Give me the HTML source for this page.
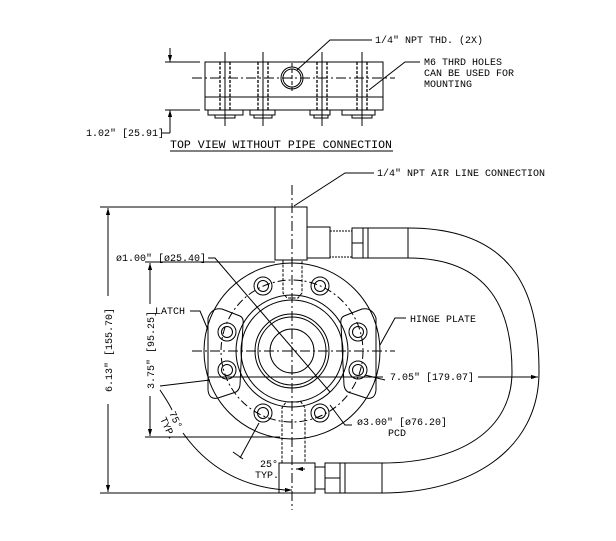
<!DOCTYPE html>
<html><head><meta charset="utf-8"><style>
html,body{margin:0;padding:0;background:#fff}
svg{display:block}
text{font-family:"Liberation Mono",monospace;font-size:10px;fill:#000}
</style></head><body>
<svg width="616" height="541" viewBox="0 0 616 541" xmlns="http://www.w3.org/2000/svg" fill="none" stroke="#000" stroke-width="1">
<defs>
<marker id="ar" viewBox="0 0 10 10" refX="10" refY="5" markerWidth="7" markerHeight="7" orient="auto-start-reverse"><path d="M0,2 L10,5 L0,8 z" fill="#000" stroke="none"/></marker>
</defs>
<rect x="205" y="62" width="178" height="48"/>
<line x1="205" y1="97" x2="383" y2="97"/>
<line x1="192" y1="78" x2="395" y2="78" stroke-dasharray="10,3,2,3"/>
<circle cx="292" cy="78" r="11"/><circle cx="292" cy="78" r="9"/>
<line x1="292" y1="63" x2="292" y2="93" stroke-dasharray="4,2"/>
<g stroke-dasharray="3,1.5" stroke-width="1.3">
<line x1="220" y1="62" x2="220" y2="110"/><line x1="230" y1="62" x2="230" y2="110"/>
<line x1="258" y1="62" x2="258" y2="110"/><line x1="268" y1="62" x2="268" y2="110"/>
<line x1="317" y1="62" x2="317" y2="110"/><line x1="327" y1="62" x2="327" y2="110"/>
<line x1="357" y1="62" x2="357" y2="110"/><line x1="367" y1="62" x2="367" y2="110"/>
</g>
<g>
<line x1="225" y1="52" x2="225" y2="126"/><line x1="263" y1="52" x2="263" y2="126"/><line x1="322" y1="52" x2="322" y2="126"/><line x1="362" y1="52" x2="362" y2="126"/>
<path d="M208,110 v5 h35 v-5 M250,110 v5 h25 v-5 M310,110 v5 h20 v-5 M342,110 v5 h33 v-5"/>
<path d="M215,115 v3 h20 v-3 M254,115 v3 h18 v-3 M314,115 v3 h14 v-3 M352,115 v3 h20 v-3"/>
</g>
<line x1="165" y1="62" x2="200" y2="62"/><line x1="165" y1="110" x2="200" y2="110"/>
<line x1="170" y1="48" x2="170" y2="62" marker-end="url(#ar)"/>
<line x1="170" y1="133" x2="170" y2="110" marker-end="url(#ar)"/>
<line x1="162" y1="133" x2="170" y2="133"/>
<text x="86" y="136" stroke="none">1.02" [25.91]</text>
<text x="170" y="148" stroke="none" textLength="222" lengthAdjust="spacingAndGlyphs" style="font-size:11px">TOP VIEW WITHOUT PIPE CONNECTION</text>
<line x1="170" y1="151" x2="393" y2="151"/>
<path d="M372,40 H330 L297,70"/>
<text x="375" y="43" stroke="none">1/4" NPT THD. (2X)</text>
<path d="M420,62 H405 L369,90"/>
<text x="424" y="65" stroke="none">M6 THRD HOLES</text>
<text x="424" y="76" stroke="none">CAN BE USED FOR</text>
<text x="424" y="87" stroke="none">MOUNTING</text>

<path d="M374,173 H345 L294,206"/>
<text x="377" y="176" stroke="none">1/4" NPT AIR LINE CONNECTION</text>
<path d="M408,228 C520,228 539,300 539,372 C539,450 470,493 382,493"/>
<path d="M408,258 C490,258 512,310 512,372 C512,430 460,463 382,463"/>
<rect x="275" y="207" width="32" height="53"/>
<path d="M307,227 h23 v31 h-23"/>
<path d="M330,231 h22 v26 h-22" stroke-dasharray="2,1"/>
<rect x="352" y="228" width="11" height="30"/><line x1="352" y1="243" x2="363" y2="243"/>
<rect x="363" y="228" width="45" height="30"/><line x1="368" y1="228" x2="368" y2="258"/>
<path d="M283,260 V293 L287,298 H298 L302,293 V260" stroke-dasharray="3,1.5"/>
<rect x="279" y="463" width="36" height="30"/>
<path d="M282,463 V408 L286,402 H301 L305,408 V463" stroke-dasharray="3,1.5"/>
<rect x="315" y="467" width="10" height="22"/>
<rect x="325" y="463" width="15" height="30"/><line x1="325" y1="478" x2="340" y2="478"/>
<rect x="340" y="463" width="42" height="30"/><line x1="345" y1="463" x2="345" y2="493"/>
<circle cx="292" cy="351" r="88"/>
<circle cx="292" cy="351" r="71" stroke-dasharray="8,3,2,3"/>
<circle cx="292" cy="351" r="56"/>
<circle cx="292" cy="351" r="51"/>
<circle cx="292" cy="351" r="37"/>
<circle cx="292" cy="351" r="34"/>
<circle cx="292" cy="351" r="22"/>
<path d="M208,318 Q212,307 222,309 L240,316 Q244,318 243,324 L240,385 Q239,392 233,393 L218,398 Q209,400 208,390 Z"/>
<path d="M376,318 Q372,307 362,309 L344,316 Q340,318 341,324 L344,385 Q345,392 351,393 L366,398 Q375,400 376,390 Z"/>
<g>
<circle cx="263" cy="286" r="9"/><circle cx="263" cy="286" r="5.5"/>
<circle cx="320" cy="286" r="9"/><circle cx="320" cy="286" r="5.5"/>
<circle cx="227" cy="332" r="9"/><circle cx="227" cy="332" r="5.5"/>
<circle cx="227" cy="370" r="9"/><circle cx="227" cy="370" r="5.5"/>
<circle cx="358" cy="332" r="9"/><circle cx="358" cy="332" r="5.5"/>
<circle cx="358" cy="370" r="9"/><circle cx="358" cy="370" r="5.5"/>
<circle cx="263" cy="413" r="9"/><circle cx="263" cy="413" r="5.5"/>
<circle cx="320" cy="413" r="9"/><circle cx="320" cy="413" r="5.5"/>
</g>
<line x1="292" y1="185" x2="292" y2="510" stroke-dasharray="10,3,2,3"/>
<line x1="192" y1="351" x2="395" y2="351" stroke-dasharray="10,3,2,3"/>
<line x1="208" y1="377" x2="383" y2="377"/>
<line x1="100" y1="207" x2="275" y2="207"/><line x1="100" y1="493" x2="279" y2="493"/>
<line x1="108" y1="350" x2="108" y2="208" marker-end="url(#ar)"/>
<line x1="108" y1="350" x2="108" y2="492" marker-end="url(#ar)"/>
<rect x="101" y="296" width="14" height="108" fill="#fff" stroke="none"/>
<text transform="translate(112,350) rotate(-90)" text-anchor="middle" stroke="none">6.13" [155.70]</text>
<line x1="145" y1="262" x2="275" y2="262"/><line x1="145" y1="437" x2="280" y2="437"/>
<line x1="150" y1="350" x2="150" y2="263" marker-end="url(#ar)"/>
<line x1="150" y1="350" x2="150" y2="436" marker-end="url(#ar)"/>
<rect x="143" y="304" width="14" height="92" fill="#fff" stroke="none"/>
<text transform="translate(154,350) rotate(-90)" text-anchor="middle" stroke="none">3.75" [95.25]</text>
<path d="M208,258 H215 L330,392"/>
<text x="116" y="261" stroke="none">ø1.00" [ø25.40]</text>
<path d="M190,311 H200 L208,330"/>
<text x="155" y="314" stroke="none">LATCH</text>
<path d="M406,318 H395 L380,345"/>
<text x="410" y="322" stroke="none">HINGE PLATE</text>
<line x1="478" y1="377" x2="538" y2="377" marker-end="url(#ar)"/>
<line x1="365" y1="375" x2="385" y2="380"/>
<text x="390" y="380" stroke="none">7.05" [179.07]</text>
<path d="M352,425 H345 L330,405"/>
<text x="357" y="425" stroke="none">ø3.00" [ø76.20]</text>
<text x="388" y="436" stroke="none">PCD</text>
<line x1="210" y1="380" x2="160" y2="386"/>
<line x1="259" y1="423" x2="240" y2="458"/>
<line x1="233" y1="452" x2="243" y2="459"/>
<path d="M160,390 Q170,405 172,410"/>
<path d="M183,433 Q220,485 285,490" />
<line x1="285" y1="490" x2="292" y2="490" marker-end="url(#ar)"/>
<line x1="305" y1="469" x2="296" y2="469" marker-end="url(#ar)"/>
<text transform="translate(169,413) rotate(65)" stroke="none">75°</text>
<text transform="translate(160,419) rotate(65)" stroke="none">TYP.</text>
<text x="260" y="467" stroke="none">25°</text>
<text x="255" y="478" stroke="none">TYP.</text>
</svg>
</body></html>
